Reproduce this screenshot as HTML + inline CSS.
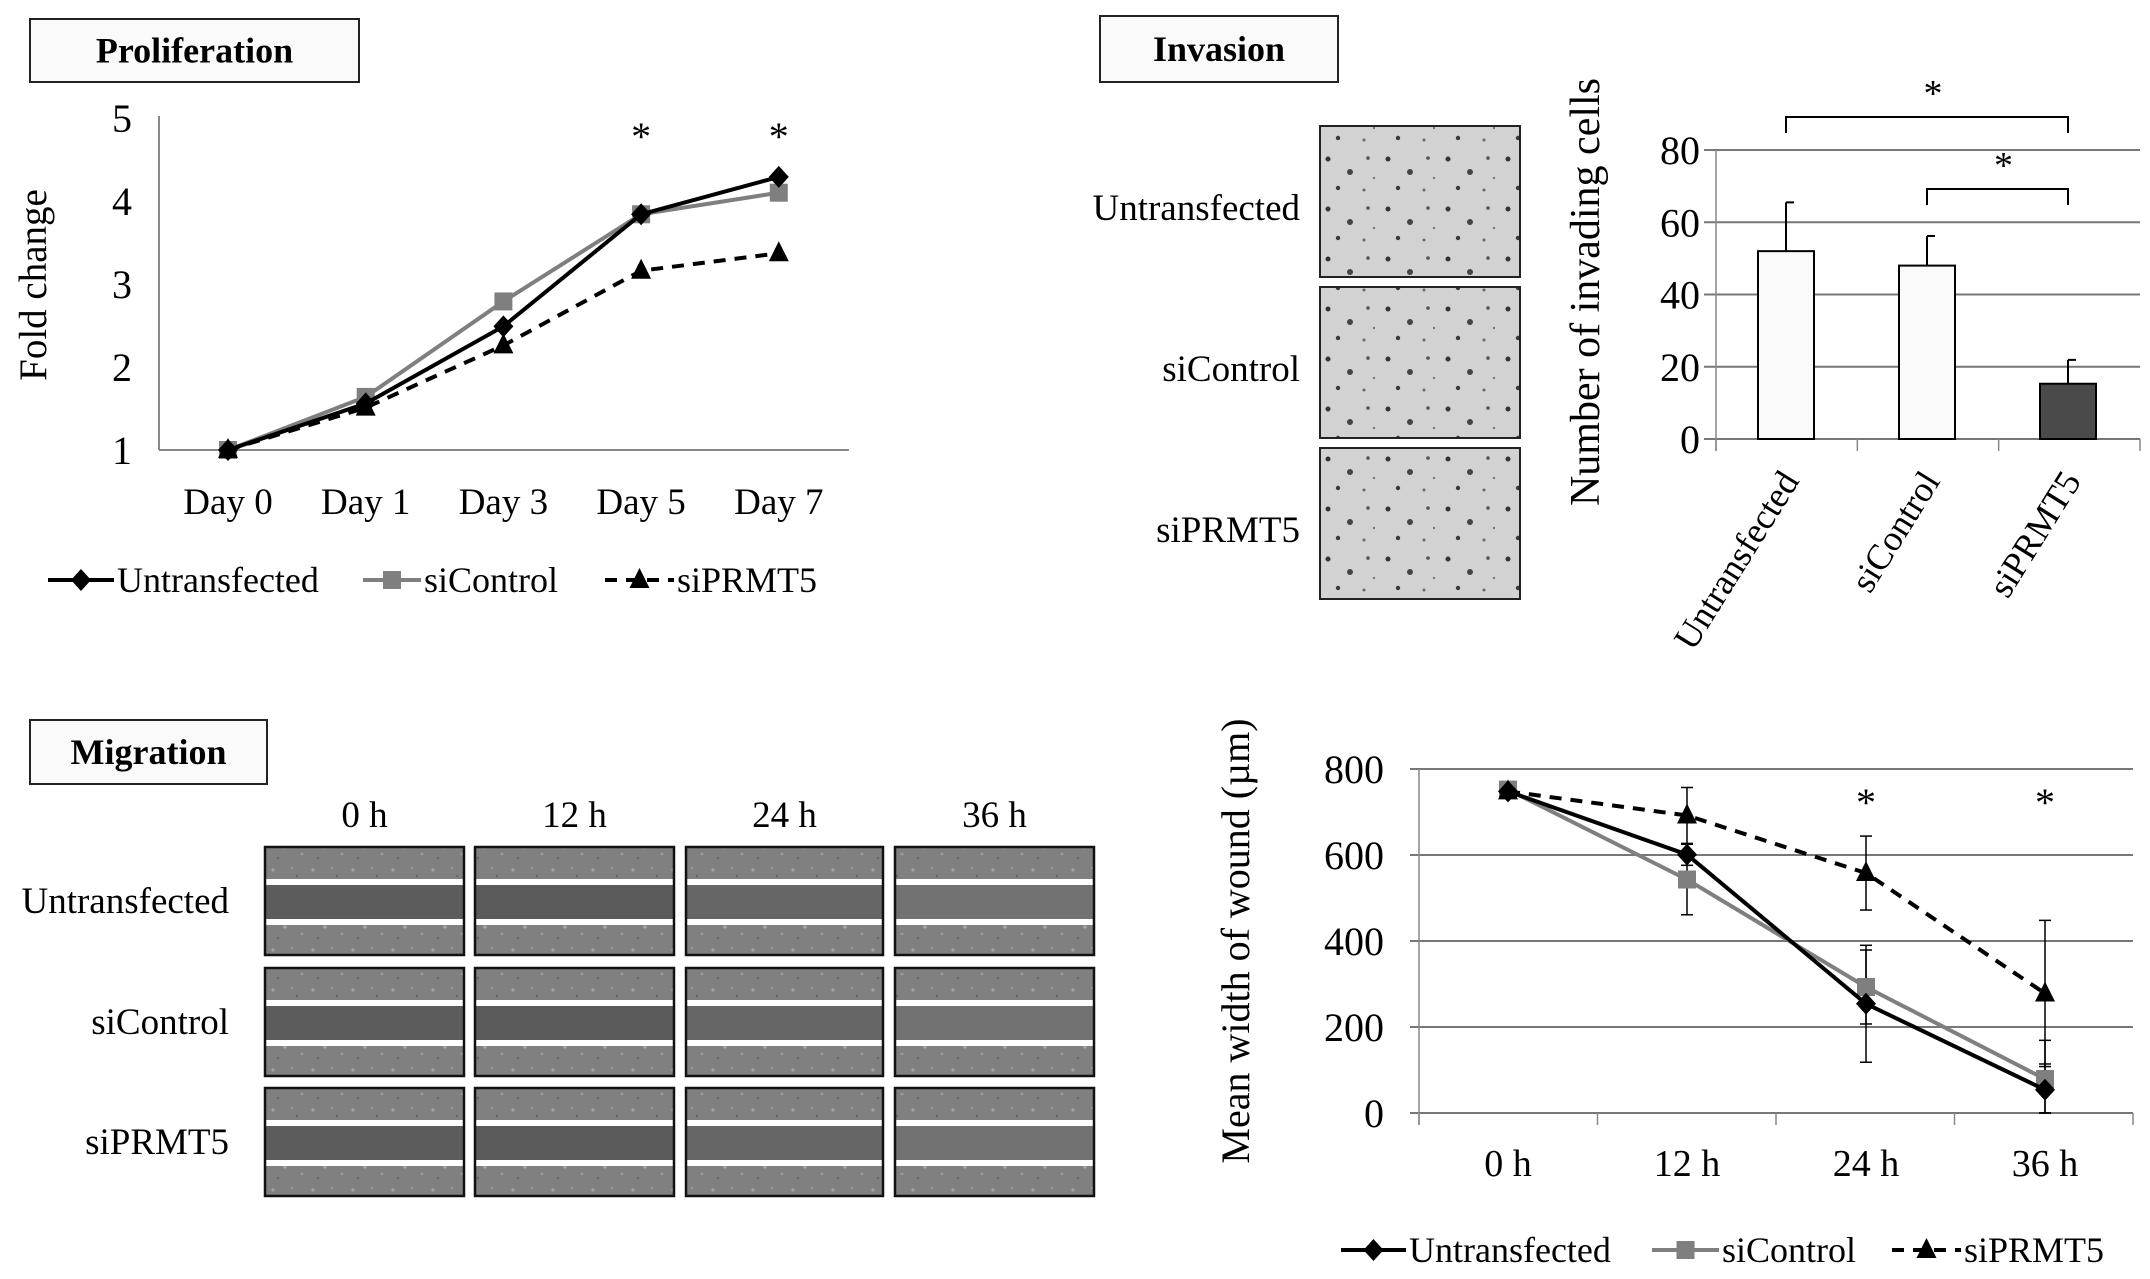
<!DOCTYPE html>
<html><head><meta charset="utf-8"><style>
html,body{margin:0;padding:0;background:#fff}
svg{display:block;font-family:"Liberation Serif",serif}
</style></head><body>
<svg id="fig" width="2150" height="1279" viewBox="0 0 2150 1279" xmlns="http://www.w3.org/2000/svg">
<defs>
<pattern id="cellsLight" width="40" height="40" patternUnits="userSpaceOnUse">
<rect width="40" height="40" fill="#808080"/><circle cx="5" cy="7" r="1.6" fill="#a8a8a8"/><circle cx="22" cy="14" r="1.4" fill="#9c9c9c"/><circle cx="33" cy="30" r="1.6" fill="#a6a6a6"/><circle cx="12" cy="28" r="1.3" fill="#999"/><circle cx="30" cy="4" r="1.2" fill="#a0a0a0"/><circle cx="17" cy="36" r="1.2" fill="#666"/><circle cx="38" cy="18" r="1.2" fill="#666"/>
</pattern>
<pattern id="invDots" width="60" height="50" patternUnits="userSpaceOnUse">
<rect width="60" height="50" fill="#d2d2d2"/><circle cx="8" cy="9" r="2.5" fill="#333"/><circle cx="30" cy="22" r="3" fill="#444"/><circle cx="48" cy="8" r="1.8" fill="#555"/><circle cx="18" cy="38" r="2.2" fill="#3a3a3a"/><circle cx="44" cy="40" r="1.5" fill="#666"/><circle cx="54" cy="28" r="1.2" fill="#777"/>
</pattern>
</defs>
<g id="prolif"></g>
<g id="inv"></g>
<g id="mig"></g>
<g id="wound"></g>
</svg>
<script>
// ---- Proliferation data ----
const prolCats = ["Day 0","Day 1","Day 3","Day 5","Day 7"];
const prolUntrans = [1, 1.56, 2.49, 3.84, 4.29];
const prolCtrl = [1, 1.64, 2.79, 3.84, 4.1];
const prolPRMT5 = [1, 1.51, 2.26, 3.16, 3.37];
const prolTicks = [1,2,3,4,5];
const prolStars = ["Day 5","Day 7"];
// ---- Invasion data ----
const invCats = ["Untransfected","siControl","siPRMT5"];
const invValues = [52, 48, 15.3];
const invErr = [13.5, 8.2, 6.6];
const invTicks = [0,20,40,60,80];
// ---- Wound data ----
const woundCats = ["0 h","12 h","24 h","36 h"];
const woundUntrans = [748, 601, 254, 54];
const woundCtrl = [752, 543, 293, 79];
const woundPRMT5 = [748, 692, 558, 278];
const woundErrUntrans = [8, 25, 136, 60];
const woundErrCtrl = [8, 82, 86, 90];
const woundErrPRMT5 = [8, 65, 86, 170];
const woundTicks = [0,200,400,600,800];
const woundStars = ["24 h","36 h"];
const migTimes = ["0 h","12 h","24 h","36 h"];
const migRows = ["Untransfected","siControl","siPRMT5"];

const NS="http://www.w3.org/2000/svg";
function mk(parent,tag,attrs,text){const e=document.createElementNS(NS,tag);for(const k in attrs)e.setAttribute(k,attrs[k]);if(text!==undefined)e.textContent=text;parent.appendChild(e);return e;}
function marker(g,type,x,y,fill){
  let e;
  if(type==="diamond") e=mk(g,"polygon",{points:`${x},${y-11} ${x+10},${y} ${x},${y+11} ${x-10},${y}`,fill:fill});
  else if(type==="square") e=mk(g,"rect",{x:x-9,y:y-9,width:18,height:18,fill:fill});
  else e=mk(g,"polygon",{points:`${x},${y-12} ${x+10},${y+8} ${x-10},${y+8}`,fill:fill});
  return e;
}
function titleBox(g,x,y,w,h,label,name){
  const r=mk(g,"rect",{x:x,y:y,width:w,height:h,fill:"#fafafa",stroke:"#222","stroke-width":2});
  
  
  const t=mk(g,"text",{x:x+w/2,y:y+h/2+12,"text-anchor":"middle","font-size":36,"font-weight":"bold"},label);
  
  
}
function legend(g,y,items){
  items.forEach(it=>{
    const l=mk(g,"line",{x1:it.x1,y1:y,x2:it.x2,y2:y,stroke:it.color,"stroke-width":4,"stroke-dasharray":it.dash||"none"});
    
    
    const m=marker(g,it.m,(it.x1+it.x2)/2,y,it.color);
    
    
    const t=mk(g,"text",{x:it.x2+3,y:y+12,"font-size":36},it.label);
    
    
  });
}

// ===== Proliferation =====
(function(){
  const g=document.getElementById("prolif");
  titleBox(g,30,19,329,63,"Proliferation","proliferation-title");
  const x0=159,x1=849,yTop=118,yBot=450;
  const ys=v=>yBot-(v-1)/(5-1)*(yBot-yTop);
  const xs=i=>228+i*137.7;
  const ax=mk(g,"line",{x1:x0,y1:yTop-2,x2:x0,y2:yBot,stroke:"#888","stroke-width":2});
  
  const bx=mk(g,"line",{x1:x0,y1:yBot,x2:x1,y2:yBot,stroke:"#888","stroke-width":2});
  
  prolTicks.forEach(v=>{const t=mk(g,"text",{x:122,y:ys(v)+14,"text-anchor":"middle","font-size":40},String(v));
    });
  prolCats.forEach((c,i)=>{const t=mk(g,"text",{x:xs(i),y:514,"text-anchor":"middle","font-size":37},c);
    });
  const yt=mk(g,"text",{x:0,y:0,"text-anchor":"middle","font-size":39,transform:`translate(46,285) rotate(-90)`},"Fold change");
  
  const series=[{d:prolCtrl,c:"#7f7f7f",m:"square",k:"sicontrol"},{d:prolPRMT5,c:"#000",m:"triangle",dash:"12 9",k:"siprmt5"},{d:prolUntrans,c:"#000",m:"diamond",k:"untransfected"}];
  series.forEach(s=>{
    const pl=mk(g,"polyline",{points:s.d.map((v,i)=>`${xs(i)},${ys(v)}`).join(" "),fill:"none",stroke:s.c,"stroke-width":4,"stroke-dasharray":s.dash||"none"});
    
    s.d.forEach((v,i)=>{const m=marker(g,s.m,xs(i),ys(v),s.c);});
  });
  prolStars.forEach(c=>{const i=prolCats.indexOf(c);const t=mk(g,"text",{x:xs(i),y:150,"text-anchor":"middle","font-size":40},"*");
    });
  legend(g,580,[{x1:48,x2:114,color:"#000",m:"diamond",label:"Untransfected",key:"untransfected"},
    {x1:363,x2:421,color:"#7f7f7f",m:"square",label:"siControl",key:"sicontrol"},
    {x1:605,x2:674,color:"#000",m:"triangle",dash:"12 9",label:"siPRMT5",key:"siprmt5"}]);
})();

// ===== Invasion =====
(function(){
  const g=document.getElementById("inv");
  titleBox(g,1100,16,238,66,"Invasion","invasion-title");
  const imgY=[126,287,448];
  invCats.forEach((c,i)=>{
    const r=mk(g,"rect",{x:1320,y:imgY[i],width:200,height:151,fill:"url(#invDots)",stroke:"#222","stroke-width":2});
    
    const t=mk(g,"text",{x:1300,y:imgY[i]+94,"text-anchor":"end","font-size":37},c);
    
  });
  const x0=1716,x1=2140,yTop=150,yBot=439;
  const ys=v=>yBot-v/80*(yBot-yTop);
  const xs=i=>1786+i*141;
  invTicks.forEach(v=>{
    const l=mk(g,"line",{x1:1704,y1:ys(v),x2:x1,y2:ys(v),stroke:"#777","stroke-width":2});
    
    const t=mk(g,"text",{x:1700,y:ys(v)+14,"text-anchor":"end","font-size":40},String(v));
    
  });
  const ax=mk(g,"line",{x1:x0,y1:yTop,x2:x0,y2:yBot+12,stroke:"#888","stroke-width":1.5});
  
  [0,1,2,3].forEach(k=>{const tx=x0+k*(x1-x0)/3;const l=mk(g,"line",{x1:tx,y1:yBot,x2:tx,y2:yBot+12,stroke:"#888","stroke-width":1.5});
    });
  invValues.forEach((v,i)=>{
    const e=mk(g,"line",{x1:xs(i),y1:ys(v+invErr[i]),x2:xs(i),y2:ys(v),stroke:"#000","stroke-width":2});
    
    const c=mk(g,"line",{x1:xs(i),y1:ys(v+invErr[i]),x2:xs(i)+8,y2:ys(v+invErr[i]),stroke:"#000","stroke-width":2});
    
    const b=mk(g,"rect",{x:xs(i)-28,y:ys(v),width:56,height:ys(0)-ys(v),fill:i===2?"#4a4a4a":"#fafafa",stroke:"#000","stroke-width":2});
    
    const t=mk(g,"text",{x:0,y:0,"text-anchor":"end","font-size":36,transform:`translate(${xs(i)+14},${yBot+42}) rotate(-58)`},invCats[i]);
    
  });
  const yt=mk(g,"text",{x:0,y:0,"text-anchor":"middle","font-size":42,transform:`translate(1599,292) rotate(-90)`},"Number of invading cells");
  
  const br=[[0,2,117,133,94],[1,2,189,205,166]];
  br.forEach(b=>{
    const p=mk(g,"polyline",{points:`${xs(b[0])},${b[3]} ${xs(b[0])},${b[2]} ${xs(b[1])},${b[2]} ${xs(b[1])},${b[3]}`,fill:"none",stroke:"#000","stroke-width":2});
    
    const t=mk(g,"text",{x:(xs(b[0])+xs(b[1]))/2+6,y:b[4]+12,"text-anchor":"middle","font-size":38},"*");
    
  });
})();

// ===== Migration images =====
(function(){
  const g=document.getElementById("mig");
  titleBox(g,30,720,237,64,"Migration","migration-title");
  const colX=[265,475,686,895], colW=[199,199,197,199];
  const rowY=[847,968,1088], rowH=108;
  migTimes.forEach((t,i)=>{const e=mk(g,"text",{x:colX[i]+colW[i]/2,y:827,"text-anchor":"middle","font-size":37},t);
    });
  migRows.forEach((r,j)=>{
    const e=mk(g,"text",{x:229,y:rowY[j]+rowH/2+12,"text-anchor":"end","font-size":37},r);
    
    migTimes.forEach((t,i)=>{
      const x=colX[i],y=rowY[j],w=colW[i];
      const gap=[ "#5c5c5c","#5a5a5a","#666","#727272"][i];
      const cell=mk(g,"g",{});
      
      mk(cell,"rect",{x:x,y:y,width:w,height:rowH,fill:"url(#cellsLight)"});
      mk(cell,"rect",{x:x,y:y+37,width:w,height:36,fill:gap});
      mk(cell,"rect",{x:x,y:y+32,width:w,height:6,fill:"#fff"});
      mk(cell,"rect",{x:x,y:y+72,width:w,height:6,fill:"#fff"});
      mk(cell,"rect",{x:x,y:y,width:w,height:rowH,fill:"none",stroke:"#111","stroke-width":2.5});
    });
  });
})();

// ===== Wound chart =====
(function(){
  const g=document.getElementById("wound");
  const x0=1419,x1=2133,yTop=769,yBot=1113;
  const ys=v=>yBot-v/800*(yBot-yTop);
  const xs=i=>1508+i*179;
  woundTicks.forEach(v=>{
    const l=mk(g,"line",{x1:1410,y1:ys(v),x2:x1,y2:ys(v),stroke:"#777","stroke-width":2});
    
    const t=mk(g,"text",{x:1384,y:ys(v)+14,"text-anchor":"end","font-size":40},String(v));
    
  });
  const ax=mk(g,"line",{x1:x0,y1:yTop,x2:x0,y2:yBot+12,stroke:"#888","stroke-width":1.5});
  
  [0,1,2,3,4].forEach(k=>{const tx=x0+k*(x1-x0)/4;const l=mk(g,"line",{x1:tx,y1:yBot,x2:tx,y2:yBot+12,stroke:"#888","stroke-width":1.5});
    });
  woundCats.forEach((c,i)=>{const t=mk(g,"text",{x:xs(i),y:1176,"text-anchor":"middle","font-size":38},c);
    });
  const yt=mk(g,"text",{x:0,y:0,"text-anchor":"middle","font-size":40,transform:`translate(1249,941) rotate(-90)`},"Mean width of wound (\u00b5m)");
  
  const series=[{d:woundCtrl,e:woundErrCtrl,c:"#7f7f7f",m:"square",k:"sicontrol"},{d:woundPRMT5,e:woundErrPRMT5,c:"#000",m:"triangle",dash:"12 9",k:"siprmt5"},{d:woundUntrans,e:woundErrUntrans,c:"#000",m:"diamond",k:"untransfected"}];
  series.forEach(s=>{
    s.d.forEach((v,i)=>{
      const lo=Math.max(0,v-s.e[i]), hi=v+s.e[i];
      const e=mk(g,"line",{x1:xs(i),y1:ys(hi),x2:xs(i),y2:ys(lo),stroke:"#000","stroke-width":1.5});
      
      [hi,lo].forEach(yv=>{const c=mk(g,"line",{x1:xs(i)-6,y1:ys(yv),x2:xs(i)+6,y2:ys(yv),stroke:"#000","stroke-width":1.5});
        });
    });
  });
  series.forEach(s=>{
    const pl=mk(g,"polyline",{points:s.d.map((v,i)=>`${xs(i)},${ys(v)}`).join(" "),fill:"none",stroke:s.c,"stroke-width":4,"stroke-dasharray":s.dash||"none"});
    
    s.d.forEach((v,i)=>{const m=marker(g,s.m,xs(i),ys(v),s.c);});
  });
  woundStars.forEach(c=>{const i=woundCats.indexOf(c);const t=mk(g,"text",{x:xs(i),y:816,"text-anchor":"middle","font-size":40},"*");
    });
  legend(g,1250,[{x1:1341,x2:1406,color:"#000",m:"diamond",label:"Untransfected",key:"untransfected"},
    {x1:1652,x2:1719,color:"#7f7f7f",m:"square",label:"siControl",key:"sicontrol"},
    {x1:1892,x2:1961,color:"#000",m:"triangle",dash:"12 9",label:"siPRMT5",key:"siprmt5"}]);
})();
</script>
</body></html>
